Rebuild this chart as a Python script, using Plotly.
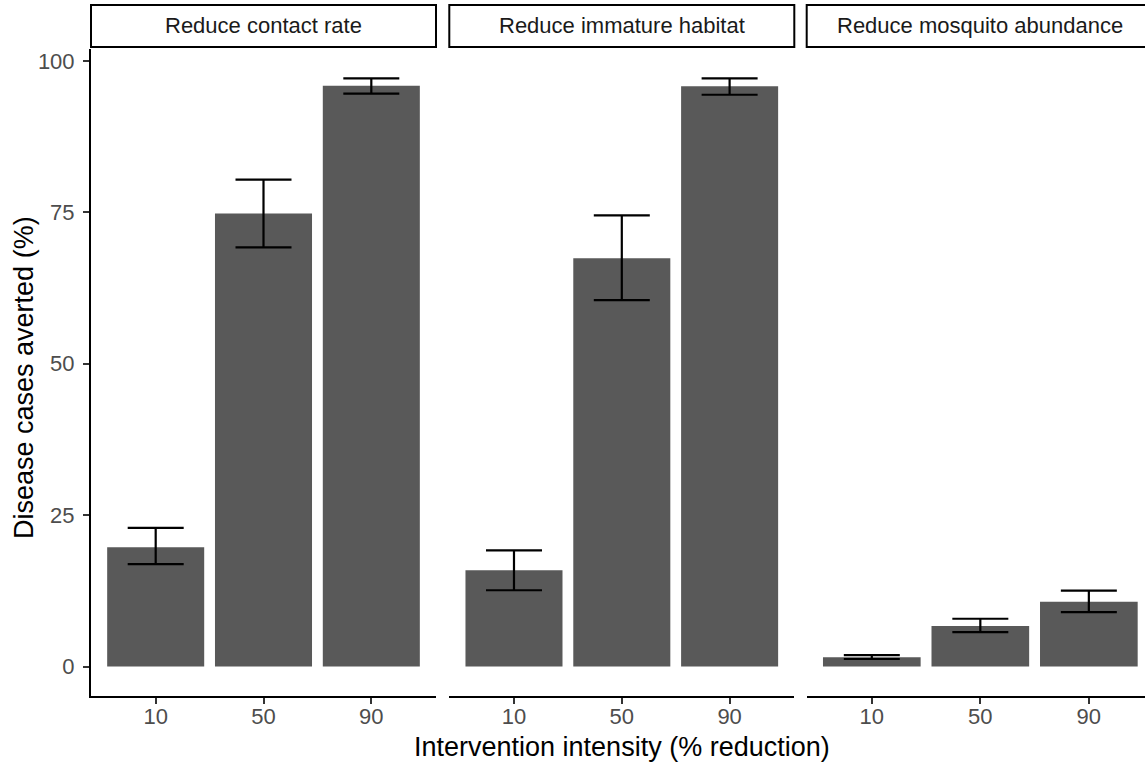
import plotly.graph_objects as go

# ---- data ----
panels = ["Reduce contact rate", "Reduce immature habitat", "Reduce mosquito abundance"]
intensity = ["10", "50", "90"]
mean_contact = [19.7, 74.8, 95.9]
upper_contact = [22.9, 80.4, 97.1]
lower_contact = [16.9, 69.2, 94.6]
mean_habitat = [15.9, 67.4, 95.8]
upper_habitat = [19.2, 74.5, 97.1]
lower_habitat = [12.6, 60.5, 94.4]
mean_abund = [1.55, 6.7, 10.7]
upper_abund = [1.9, 7.9, 12.55]
lower_abund = [1.25, 5.7, 9.0]
y_ticks = [0, 25, 50, 75, 100]

means = [mean_contact, mean_habitat, mean_abund]
uppers = [upper_contact, upper_habitat, upper_abund]
lowers = [lower_contact, lower_habitat, lower_abund]

FONT = "Liberation Sans, Arial, sans-serif"
W, H = 1145, 763
ML, MR, MT, MB = 91, 0, 49, 67
PW = W - ML - MR
PH = H - MT - MB

# panel pixel extents (left, right)
px = [(91, 436), (449.3, 794.3), (806.7, 1153.9)]
domains = []
for (a, b) in px:
    domains.append([(a - ML) / PW, min(1.0, (b - ML) / PW)])

unit_px = (436 - 91) / 3.2
x_ranges = [[-0.6, 2.6], [-0.6, 2.6], [-0.6, 2.6 - (1153.9 - W) / unit_px]]

fig = go.Figure()
for i in range(3):
    m, u, l = means[i], uppers[i], lowers[i]
    fig.add_trace(go.Bar(
        x=intensity, y=m,
        marker=dict(color="#595959", line=dict(width=0)),
        width=0.9,
        error_y=dict(type="data", symmetric=False,
                     array=[uu - mm for uu, mm in zip(u, m)],
                     arrayminus=[mm - ll for mm, ll in zip(m, l)],
                     color="black", thickness=2.2, width=28),
        xaxis="x" if i == 0 else f"x{i+1}",
        yaxis="y" if i == 0 else f"y{i+1}",
        showlegend=False, hoverinfo="skip",
    ))

yrange = [-4.855, 101.955]
layout = dict(
    width=W, height=H,
    margin=dict(l=ML, r=MR, t=MT, b=MB),
    paper_bgcolor="white", plot_bgcolor="white",
    font=dict(family=FONT, color="black"),
    showlegend=False,
)
for i in range(3):
    xk = "xaxis" if i == 0 else f"xaxis{i+1}"
    yk = "yaxis" if i == 0 else f"yaxis{i+1}"
    layout[xk] = dict(
        domain=domains[i], range=x_ranges[i], type="category",
        showline=True, linecolor="black", linewidth=2,
        ticks="outside", ticklen=6, tickwidth=2, tickcolor="#333333",
        tickfont=dict(size=22, color="#4D4D4D", family=FONT),
        showgrid=False, zeroline=False, fixedrange=True,
        anchor="y" if i == 0 else f"y{i+1}",
        ticklabelstandoff=-6,
    )
    yd = dict(
        domain=[0, 1], range=yrange, showgrid=False, zeroline=False,
        anchor="x" if i == 0 else f"x{i+1}", fixedrange=True,
        tickvals=y_ticks,
    )
    if i == 0:
        yd.update(showline=True, linecolor="black", linewidth=2,
                  ticks="outside", ticklen=6, tickwidth=2, tickcolor="#333333",
                  tickfont=dict(size=22, color="#4D4D4D", family=FONT),
                  ticklabelstandoff=4)
    else:
        yd.update(showline=False, showticklabels=False, ticks="", matches="y")
    layout[yk] = yd

fig.update_layout(**layout)

# strips
strip_y0 = 1 + (MT - 47) / PH
strip_y1 = 1 + (MT - 5) / PH
for i, (a, b) in enumerate(px):
    x0 = (a - ML) / PW
    x1 = (b - ML) / PW
    fig.add_shape(type="rect", xref="paper", yref="paper",
                  x0=x0, x1=x1, y0=strip_y0, y1=strip_y1,
                  line=dict(color="black", width=2), fillcolor="white", layer="above")
    fig.add_annotation(text=panels[i], xref="paper", yref="paper",
                       x=(x0 + x1) / 2, y=(strip_y0 + strip_y1) / 2,
                       xanchor="center", yanchor="middle", showarrow=False,
                       font=dict(size=22, color="#1A1A1A", family=FONT))

# axis titles
fig.add_annotation(text="Intervention intensity (% reduction)", xref="paper", yref="paper",
                   x=(622.4 - ML) / PW, y=-(747 - (MT + PH)) / PH,
                   xanchor="center", yanchor="middle", showarrow=False,
                   font=dict(size=27, color="black", family=FONT))
fig.add_annotation(text="Disease cases averted (%)", xref="paper", yref="paper",
                   x=-(ML - 24) / PW, y=(MT + PH - 378) / PH, textangle=-90,
                   xanchor="center", yanchor="middle", showarrow=False,
                   font=dict(size=27, color="black", family=FONT))

fig.write_html("out.html", config={"displayModeBar": False},
               post_script="document.body.style.margin='0px';document.body.style.overflow='hidden';")
